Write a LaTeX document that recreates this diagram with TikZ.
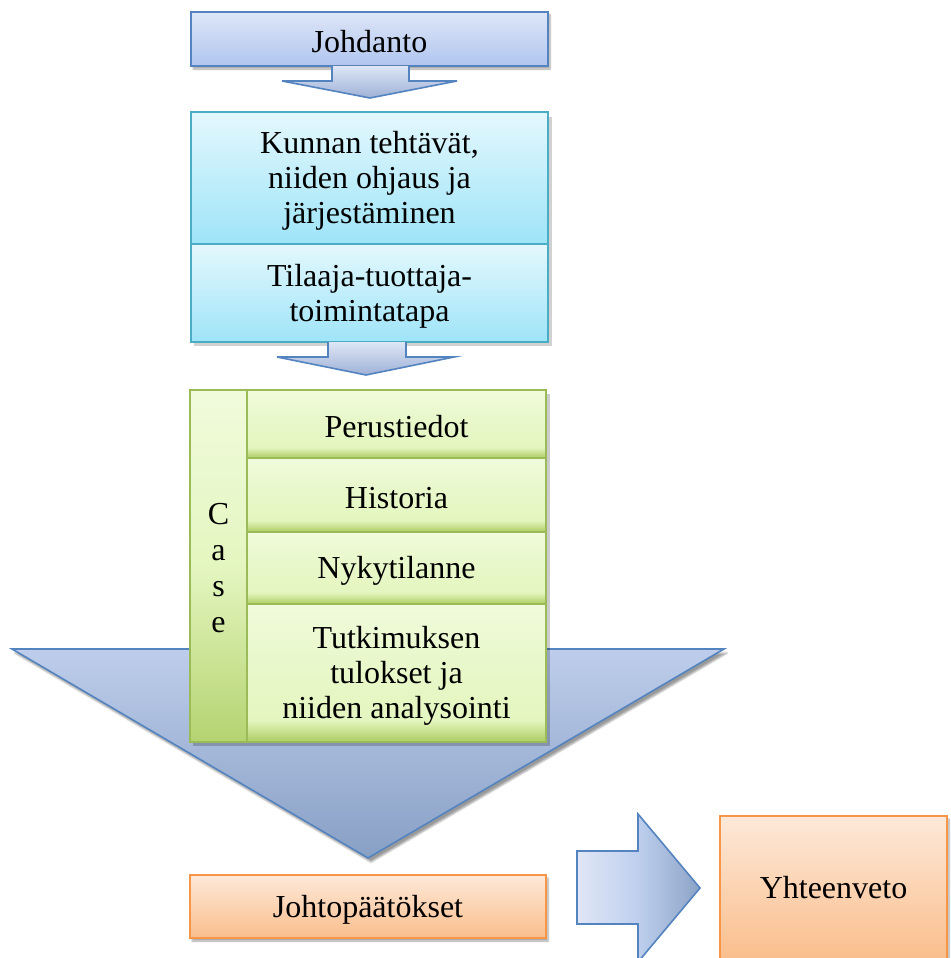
\documentclass[tikz,border=0pt]{standalone}
\usepackage{fontspec}
\setmainfont{Liberation Serif}
\usetikzlibrary{shadows.blur}
\definecolor{blueT}{RGB}{222,230,247}
\definecolor{blueB}{RGB}{176,197,239}
\definecolor{blueedge}{RGB}{84,132,192}
\definecolor{arrT}{RGB}{222,230,246}
\definecolor{arrB}{RGB}{158,177,214}
\definecolor{cyanT}{RGB}{228,248,253}
\definecolor{cyanB}{RGB}{158,228,248}
\definecolor{cyanedge}{RGB}{75,172,198}
\definecolor{greenT}{RGB}{240,251,220}
\definecolor{greenM}{RGB}{228,246,192}
\definecolor{greenB}{RGB}{172,205,98}
\definecolor{greenedge}{RGB}{155,187,89}
\definecolor{triT}{RGB}{190,205,235}
\definecolor{triB}{RGB}{136,160,197}
\definecolor{orT}{RGB}{253,233,217}
\definecolor{orB}{RGB}{250,190,140}
\definecolor{oredge}{RGB}{247,150,70}
\definecolor{raL}{RGB}{224,231,246}
\definecolor{raM}{RGB}{190,207,238}
\definecolor{raR}{RGB}{140,163,198}
\pgfdeclareverticalshading{greensh}{100bp}{color(0bp)=(greenB); color(25bp)=(greenB); color(33bp)=(greenM); color(55bp)=(greenM!60!greenT); color(75bp)=(greenT); color(100bp)=(greenT)}
\pgfdeclareverticalshading{casesh}{100bp}{color(0bp)=(greenB!85!greenM); color(25bp)=(greenB!85!greenM); color(50bp)=(greenM); color(75bp)=(greenT); color(100bp)=(greenT)}
\pgfdeclarehorizontalshading{rash}{100bp}{color(0bp)=(raL); color(25bp)=(raL); color(50bp)=(raM); color(75bp)=(raR); color(100bp)=(raR)}
\tikzset{
  base/.style={draw, line width=1.6pt, inner sep=0pt},
  txt/.style={align=center, inner sep=0pt, yshift=-3pt, font=\fontsize{32}{35}\selectfont},
  shad/.style={blur shadow={shadow xshift=2pt, shadow yshift=-3pt, shadow blur steps=6, shadow opacity=35}},
  bluebox/.style={base, shad, draw=blueedge, top color=blueT, bottom color=blueB},
  cyanbox/.style={base, draw=cyanedge, top color=cyanT, bottom color=cyanB},
  greenbox/.style={base, draw=greenedge, shading=greensh},
  casebox/.style={base, draw=greenedge, shading=casesh},
  orbox/.style={base, shad, draw=oredge, top color=orT, bottom color=orB},
  downarrow/.style={draw=blueedge, line width=1.6pt, top color=arrT, bottom color=arrB, line join=miter},
  bigtri/.style={draw=blueedge, line width=1.6pt, top color=triT, bottom color=triB, blur shadow={shadow xshift=3pt, shadow yshift=-4pt, shadow opacity=40}},
  rightarrow/.style={draw=blueedge, line width=1.6pt, shading=rash, line join=miter}
}
\begin{document}
\begin{tikzpicture}[x=1pt, y=-1pt]
\useasboundingbox (0,0) rectangle (950,958);
% big triangle (behind)
\filldraw[bigtri] (12,649) -- (724,649) -- (368,858) -- cycle;
% Johdanto
\node[bluebox, minimum width=357pt, minimum height=54pt, label={[txt]center:Johdanto}] (johd) at (369.5,39) {};
% arrow 1
\filldraw[downarrow] (332,66) -- (332,81) -- (282,81) -- (370,98) -- (457,81) -- (409,81) -- (409,66);
% cyan block
\fill[black, opacity=0.18] (194,117) rectangle (552,346);
\node[cyanbox, minimum width=357pt, minimum height=132pt, label={[txt]center:{Kunnan tehtävät,\\niiden ohjaus ja\\järjestäminen}}] (kunta) at (369.5,178) {};
\node[cyanbox, minimum width=357pt, minimum height=98pt, label={[txt]center:{Tilaaja-tuottaja-\\toimintatapa}}] (tilaaja) at (369.5,293) {};
% arrow 2
\filldraw[downarrow] (328,342) -- (328,357) -- (277,357) -- (366,375) -- (454,357) -- (406,357) -- (406,342);
% green block
\fill[black, opacity=0.2] (193,394) rectangle (550,746);
\node[casebox, minimum width=57pt, minimum height=352pt, label={[txt, yshift=1pt, font=\fontsize{32}{36}\selectfont]center:{C\\a\\s\\e}}] (case) at (218.5,566) {};
\node[greenbox, minimum width=299pt, minimum height=68pt, label={[txt]center:Perustiedot}] (perus) at (396.5,424) {};
\node[greenbox, minimum width=299pt, minimum height=74pt, label={[txt]center:Historia}] (hist) at (396.5,495) {};
\node[greenbox, minimum width=299pt, minimum height=72pt, label={[txt]center:Nykytilanne}] (nyky) at (396.5,568) {};
\node[greenbox, minimum width=299pt, minimum height=138pt, label={[txt]center:{Tutkimuksen\\tulokset ja\\niiden analysointi}}] (tutk) at (396.5,673) {};
% bottom
\node[orbox, minimum width=356pt, minimum height=63pt, label={[txt]center:Johtopäätökset}] (johto) at (368,906.5) {};
\filldraw[rightarrow] (577,851) -- (638,851) -- (638,814) -- (700,888) -- (638,962) -- (638,924) -- (577,924) -- cycle;
\node[orbox, minimum width=227pt, minimum height=144pt, label={[txt, yshift=3pt]center:Yhteenveto}] (yht) at (833.5,888) {};
\end{tikzpicture}
\end{document}
